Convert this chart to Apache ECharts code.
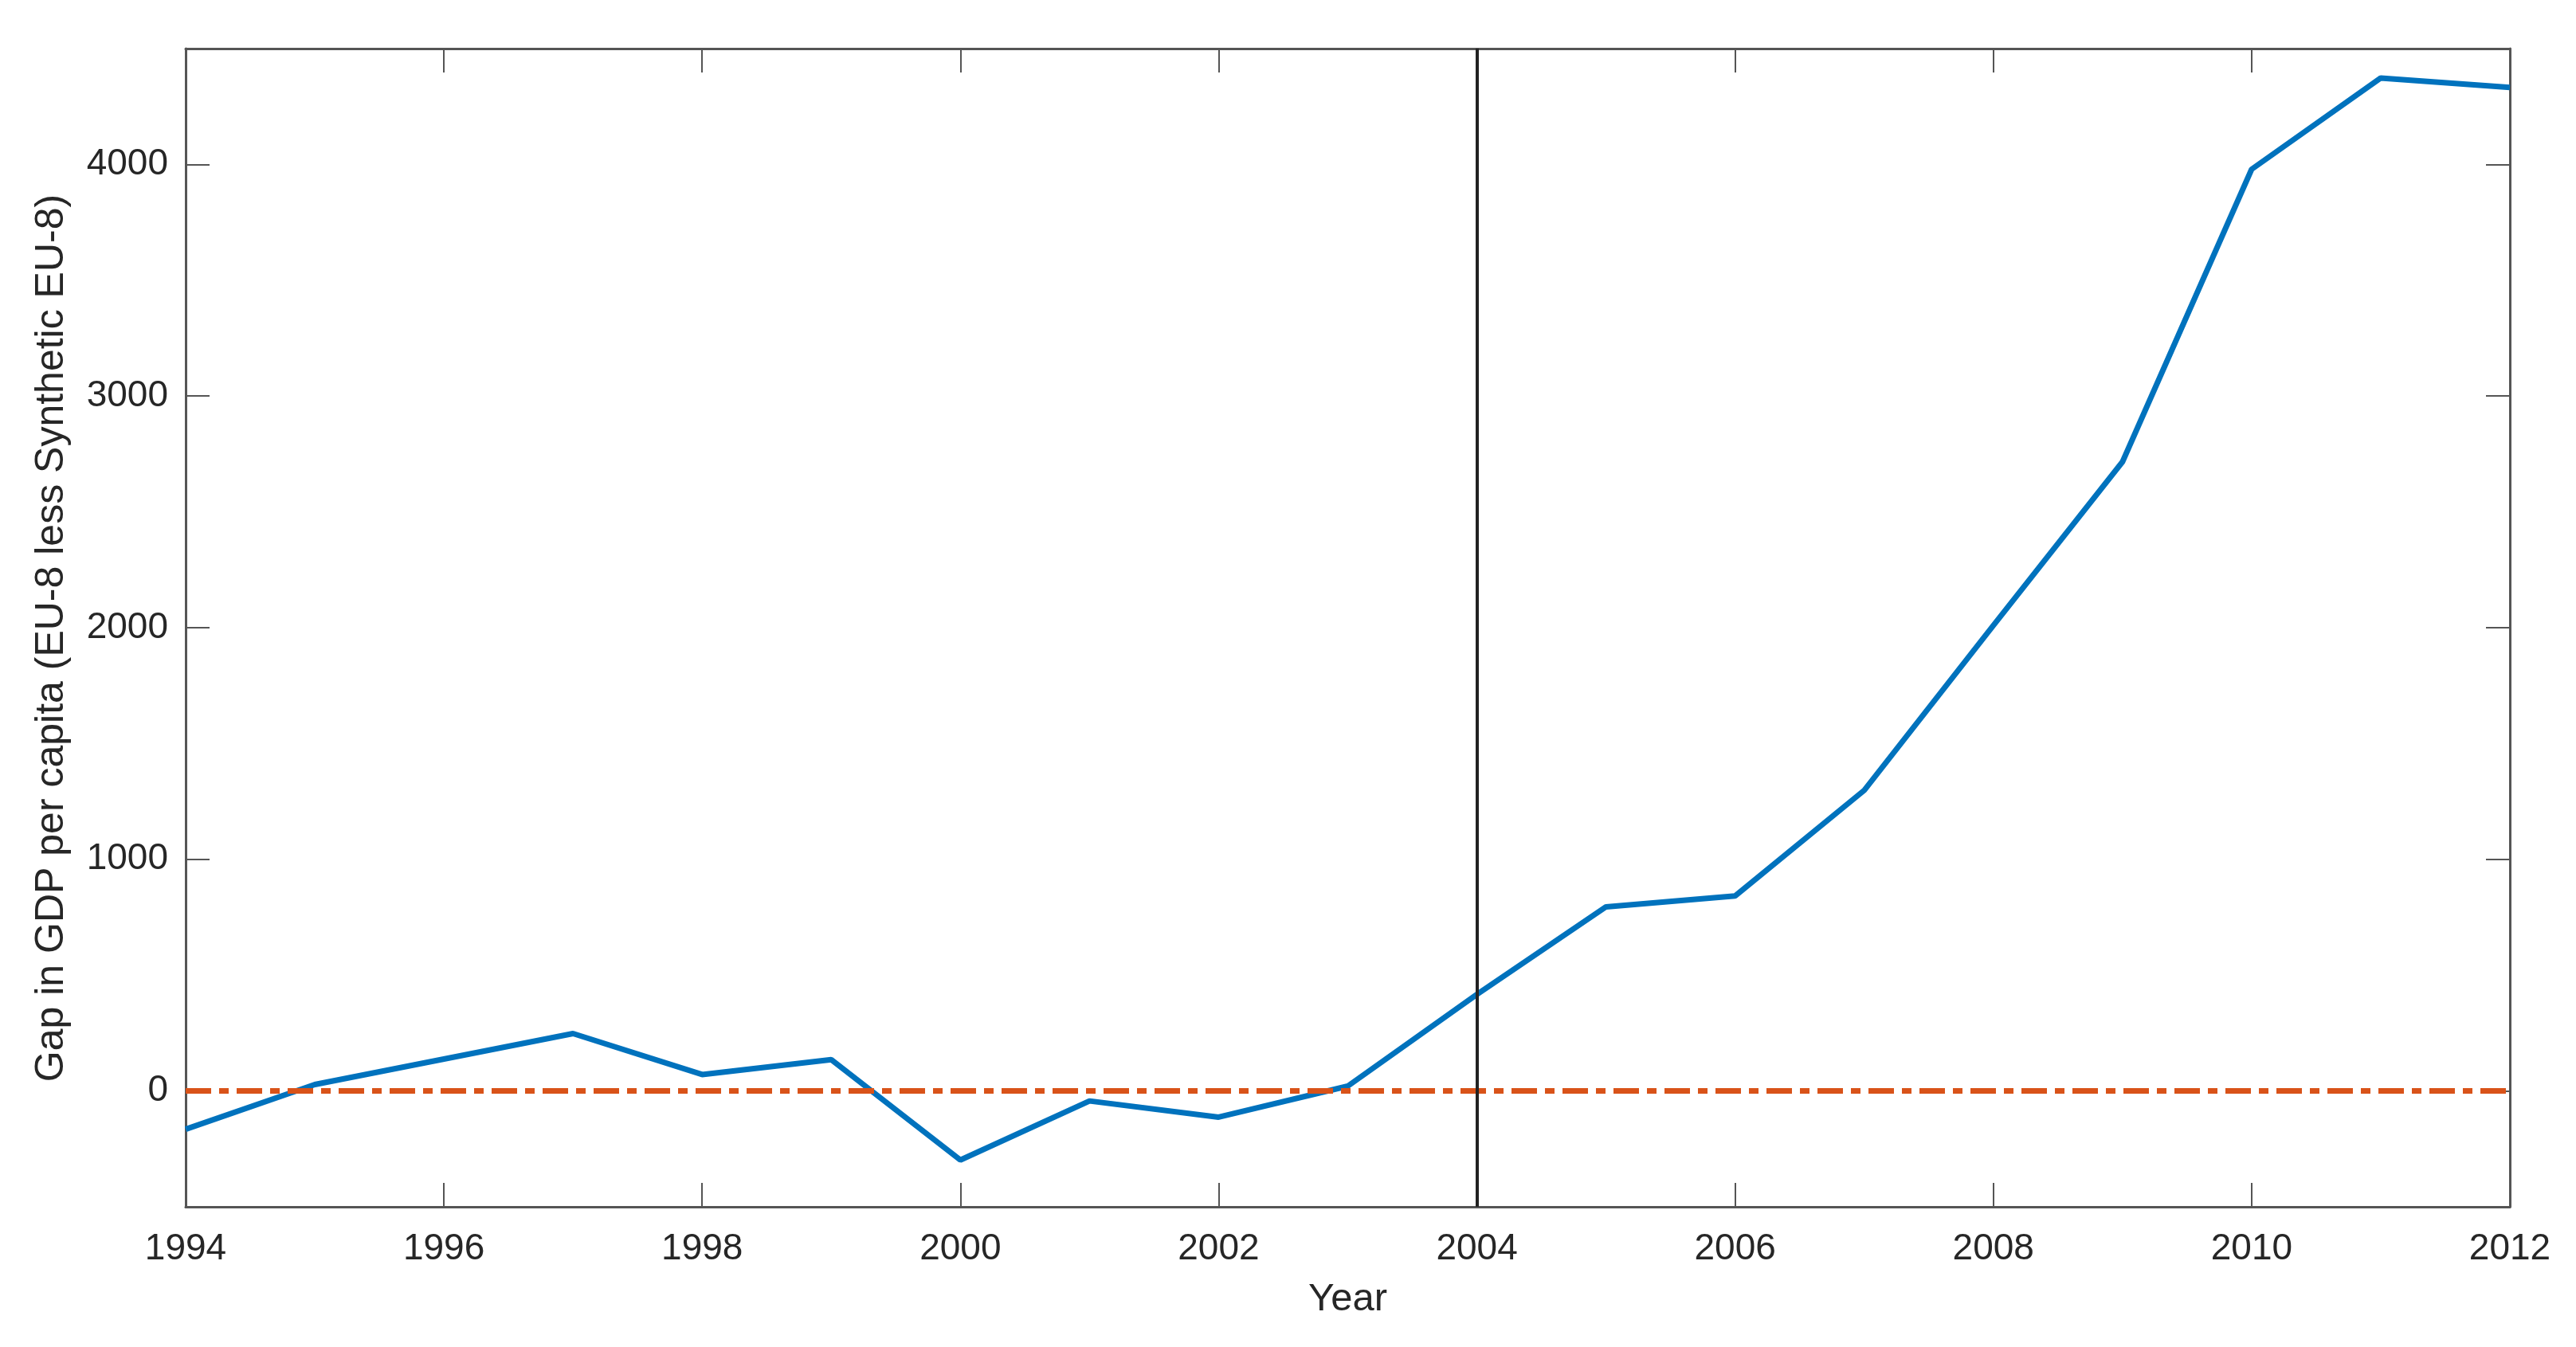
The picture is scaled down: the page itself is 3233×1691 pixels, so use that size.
<!DOCTYPE html>
<html>
<head>
<meta charset="utf-8">
<script src="https://cdn.jsdelivr.net/npm/echarts@6/dist/echarts.min.js"></script>
<style>html,body{margin:0;padding:0;background:#fff}#c{width:3233px;height:1691px}</style>
</head>
<body>
<div id="c"></div>
<script>
const years = [1994,1995,1996,1997,1998,1999,2000,2001,2002,2003,2004,2005,2006,2007,2008,2009,2010,2011,2012];
const gap = [-165,28,138,248,71,135,-298,-43,-113,21,417,795,842,1298,2010,2716,3979,4373,4332];
const xTicks = [1994,1996,1998,2000,2002,2004,2006,2008,2010,2012];
const yTicks = [0,1000,2000,3000,4000];
const treatmentYear = 2004;
const zeroLine = 0;

const axisColor = '#555';
const textColor = '#262626';
const font = 'Liberation Sans, Arial, sans-serif';

const chart = echarts.init(document.getElementById('c'));
const xBase = {
  type: 'value', min: 1994, max: 2012, interval: 2,
  axisLine: {show: true, onZero: false, lineStyle: {color: axisColor, width: 3}},
  axisTick: {show: true, inside: true, length: 30, lineStyle: {color: axisColor, width: 2}},
  splitLine: {show: false}
};
const yBase = {
  type: 'value', min: -500, max: 4500,
  axisLine: {show: true, onZero: false, lineStyle: {color: axisColor, width: 3}},
  axisTick: {show: true, inside: true, length: 30, customValues: yTicks, lineStyle: {color: axisColor, width: 2}},
  splitLine: {show: false}
};
chart.setOption({
  animation: false,
  backgroundColor: '#fff',
  grid: {left: 233, right: 83, top: 61, bottom: 176, containLabel: false},
  xAxis: [
    Object.assign({}, xBase, {
      position: 'bottom',
      name: 'Year', nameLocation: 'middle', nameGap: 92,
      nameTextStyle: {fontFamily: font, fontSize: 49, color: textColor},
      axisLabel: {show: true, margin: 30, fontFamily: font, fontSize: 46, color: textColor,
        customValues: xTicks, formatter: v => String(v)}
    }),
    Object.assign({}, xBase, {position: 'top', axisLabel: {show: false}})
  ],
  yAxis: [
    Object.assign({}, yBase, {
      position: 'left',
      name: 'Gap in GDP per capita (EU-8 less Synthetic EU-8)', nameLocation: 'middle', nameGap: 143,
      nameTextStyle: {fontFamily: font, fontSize: 50, color: textColor, padding: [0, 26, 0, 0]},
      axisLabel: {show: true, margin: 22, fontFamily: font, fontSize: 46, color: textColor,
        customValues: yTicks, formatter: v => String(v)}
    }),
    Object.assign({}, yBase, {position: 'right', axisLabel: {show: false}})
  ],
  series: [
    {
      type: 'line', xAxisIndex: 0, yAxisIndex: 0,
      data: years.map((y, i) => [y, gap[i]]),
      showSymbol: false, symbol: 'none',
      lineStyle: {color: '#0072BD', width: 7},
      z: 3,
      markLine: {
        silent: true, symbol: 'none', label: {show: false},
        data: [
          {yAxis: zeroLine, lineStyle: {color: '#D95319', width: 7, type: [32, 10, 12, 10]}},
          {xAxis: treatmentYear, lineStyle: {color: '#222', width: 4, type: 'solid'}}
        ]
      }
    }
  ]
});
</script>
</body>
</html>
